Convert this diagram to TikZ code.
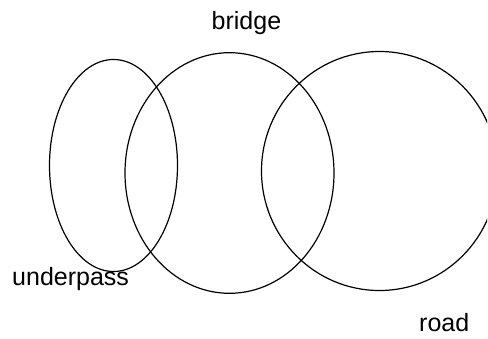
\documentclass[tikz,border=0pt]{standalone}
\usepackage{fontspec}
\setmainfont{Liberation Sans}
\begin{document}
\begin{tikzpicture}[x=1pt,y=-1pt,
  setline/.style={draw=black,line width=1.2pt},
  lbl/.style={inner sep=0pt,anchor=base west,font=\fontsize{25}{30}\selectfont,text=black}]
\useasboundingbox (0,0) rectangle (488,338);
\clip (0,0) rectangle (487,338);
\fill[white] (0,0) rectangle (488,338);
\draw[setline] (113.5,165.5) ellipse [x radius=64pt, y radius=106pt];
\draw[setline] (229.5,173) ellipse [x radius=104.5pt, y radius=120.3pt];
\draw[setline] (379.5,171) ellipse [x radius=118pt, y radius=119.5pt];
\node[lbl] (bridge) at (211.5,29.5) {bridge};
\node[lbl] (underpass) at (12,285) {underpass};
\node[lbl] (road) at (419,331.5) {road};
\end{tikzpicture}
\end{document}
